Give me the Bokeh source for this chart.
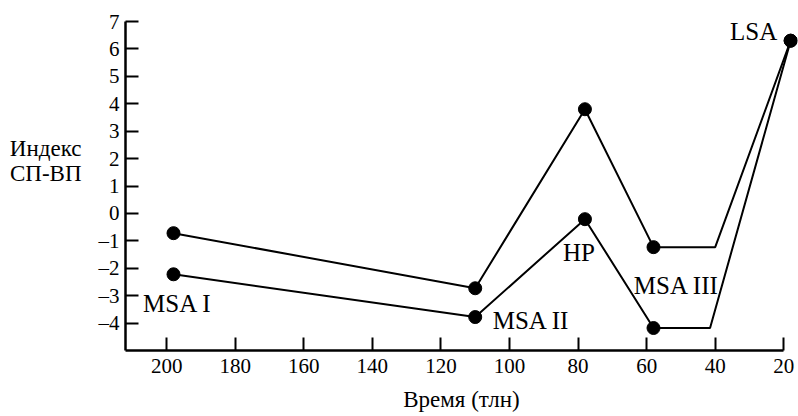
from bokeh.plotting import figure
from bokeh.models import Range1d, FixedTicker, LinearAxis
from bokeh.embed import file_html
from bokeh.resources import INLINE
from bokeh.core.properties import value

# Data (time in thousand years ago, index)
upper_x = [198, 110, 78, 58, 40, 18]
upper_y = [-0.72, -2.73, 3.8, -1.23, -1.23, 6.3]
upper_marked = [True, True, True, True, False, True]
lower_x = [198, 110, 78, 58, 41.5, 18]
lower_y = [-2.22, -3.78, -0.21, -4.18, -4.18, 6.3]
lower_marked = [True, True, True, True, False, True]

x_ticks = [200, 180, 160, 140, 120, 100, 80, 60, 40, 20]
y_ticks = [-4, -3, -2, -1, 0, 1, 2, 3, 4, 5, 6, 7]

stage_names = ["MSA I", "MSA II", "HP", "MSA III", "LSA"]
stage_x = [198, 110, 78, 58, 18]
stage_y = [-2.22, -3.78, -0.21, -4.18, 6.3]
stage_dx = [4, 56, -6, 23, -37]
stage_dy = [29, 3, 33, -43, -9]

FONT = "Liberation Serif"

W, H = 798, 414
FL, FT, FB = 125, 21, 350
p = figure(width=W, height=H, output_backend="svg", toolbar_location=None,
           x_range=Range1d(212, 16), y_range=Range1d(-5, 7),
           min_border_left=FL, min_border_right=1, min_border_top=FT,
           min_border_bottom=H - FB)
p.outline_line_color = None
p.xgrid.visible = False
p.ygrid.visible = False
p.background_fill_color = "white"
p.border_fill_color = "white"

p.line(upper_x, upper_y, line_color="black", line_width=2)
p.line(lower_x, lower_y, line_color="black", line_width=2)
ux = [x for x, m in zip(upper_x, upper_marked) if m]
uy = [y for y, m in zip(upper_y, upper_marked) if m]
lx = [x for x, m in zip(lower_x, lower_marked) if m]
ly = [y for y, m in zip(lower_y, lower_marked) if m]
p.scatter(ux, uy, size=13, color="black")
p.scatter(lx, ly, size=13, color="black")

for name, x, y, dx, dy in zip(stage_names, stage_x, stage_y, stage_dx, stage_dy):
    p.text(x=[x], y=[y], text=[name], x_offset=dx, y_offset=dy,
           text_font=value(FONT), text_font_size="25px", text_color="black",
           text_align="center", text_baseline="middle")

# Axes
xa = p.xaxis[0]
xa.ticker = FixedTicker(ticks=x_ticks)
xa.bounds = (20, 212)
xa.axis_line_width = 2.5
xa.axis_line_color = "black"
xa.major_tick_in = 13
xa.major_tick_out = 0
xa.major_tick_line_width = 2
xa.minor_tick_line_color = None
xa.major_label_text_font = FONT
xa.major_label_text_font_size = "21px"
xa.major_label_text_color = "black"
xa.major_label_standoff = 8
xa.axis_label = "Время (тлн)"
xa.axis_label_text_font = FONT
xa.axis_label_text_font_size = "23px"
xa.axis_label_text_font_style = "normal"
xa.axis_label_text_color = "black"
xa.axis_label_standoff = 11

ya = p.yaxis[0]
ya.ticker = FixedTicker(ticks=y_ticks)
ya.axis_line_width = 2.5
ya.axis_line_color = "black"
ya.major_tick_in = 13
ya.major_tick_out = 0
ya.major_tick_line_width = 2
ya.minor_tick_line_color = None
ya.major_label_text_font = FONT
ya.major_label_text_font_size = "21px"
ya.major_label_text_color = "black"
ya.major_label_standoff = 6
ya.major_label_overrides = {t: ("\u2013" + str(-t)) for t in y_ticks if t < 0}

# y-axis title via an extra, invisible axis (two trailing blank lines lift it)
ta = LinearAxis(ticker=FixedTicker(ticks=[]),
                axis_line_color=None, major_tick_line_color=None,
                minor_tick_line_color=None,
                axis_label="Индекс\nСП-ВП\n\n", axis_label_orientation="horizontal",
                axis_label_text_font=FONT,
                axis_label_text_font_size="23px",
                axis_label_text_font_style="normal",
                axis_label_text_line_height=1.0,
                axis_label_text_color="black", axis_label_standoff=14)
p.add_layout(ta, "left")

open("out.html", "w").write(file_html(p, INLINE))
